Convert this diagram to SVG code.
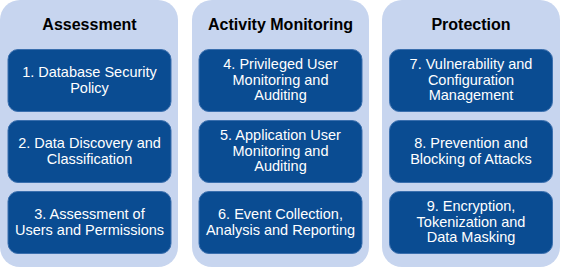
<svg xmlns="http://www.w3.org/2000/svg" width="561" height="270" viewBox="0 0 561 270">
<style>
.panel{fill:#c7d5ef;}
.box{fill:#0a4c92;stroke:#3a6fae;stroke-width:1;}
.title{font-family:"Liberation Sans",Arial,sans-serif;font-weight:bold;font-size:16px;fill:#000;text-anchor:middle;}
.lbl{font-family:"Liberation Sans",Arial,sans-serif;font-size:14.5px;fill:#fff;text-anchor:middle;}
</style>
<rect width="561" height="270" fill="#fff"/>
<g id="assessment">
<rect class="panel" x="0" y="0" width="178" height="267" rx="20"/>
<text class="title" x="89.5" y="30">Assessment</text>
</g>
<g id="activity-monitoring">
<rect class="panel" x="192" y="0" width="177" height="267" rx="20"/>
<text class="title" x="280.5" y="30">Activity Monitoring</text>
</g>
<g id="protection">
<rect class="panel" x="382" y="0" width="178" height="267" rx="20"/>
<text class="title" x="471" y="30">Protection</text>
</g>
<g id="n1"><rect class="box" x="8" y="49.5" width="163" height="62" rx="10"/>
<text class="lbl" x="89.5" y="77">1. Database Security</text><text class="lbl" x="89.5" y="93">Policy</text></g>
<g id="n2"><rect class="box" x="8" y="120.5" width="163" height="62" rx="10"/>
<text class="lbl" x="89.5" y="148">2. Data Discovery and</text><text class="lbl" x="89.5" y="164">Classification</text></g>
<g id="n3"><rect class="box" x="8" y="191.5" width="163" height="62" rx="10"/>
<text class="lbl" x="89.5" y="219">3. Assessment of</text><text class="lbl" x="89.5" y="235">Users and Permissions</text></g>
<g id="n4"><rect class="box" x="199" y="49.5" width="163" height="62" rx="10"/>
<text class="lbl" x="280.5" y="69">4. Privileged User</text><text class="lbl" x="280.5" y="84.5">Monitoring and</text><text class="lbl" x="280.5" y="100">Auditing</text></g>
<g id="n5"><rect class="box" x="199" y="120.5" width="163" height="62" rx="10"/>
<text class="lbl" x="280.5" y="140">5. Application User</text><text class="lbl" x="280.5" y="155.5">Monitoring and</text><text class="lbl" x="280.5" y="171">Auditing</text></g>
<g id="n6"><rect class="box" x="199" y="191.5" width="163" height="62" rx="10"/>
<text class="lbl" x="280.5" y="219">6. Event Collection,</text><text class="lbl" x="280.5" y="235">Analysis and Reporting</text></g>
<g id="n7"><rect class="box" x="389.5" y="49.5" width="163" height="62" rx="10"/>
<text class="lbl" x="471" y="69">7. Vulnerability and</text><text class="lbl" x="471" y="84.5">Configuration</text><text class="lbl" x="471" y="100">Management</text></g>
<g id="n8"><rect class="box" x="389.5" y="120.5" width="163" height="62" rx="10"/>
<text class="lbl" x="471" y="148">8. Prevention and</text><text class="lbl" x="471" y="164">Blocking of Attacks</text></g>
<g id="n9"><rect class="box" x="389.5" y="191.5" width="163" height="62" rx="10"/>
<text class="lbl" x="471" y="211">9. Encryption,</text><text class="lbl" x="471" y="226.5">Tokenization and</text><text class="lbl" x="471" y="242">Data Masking</text></g>
<g id="connectors"></g>
</svg>
